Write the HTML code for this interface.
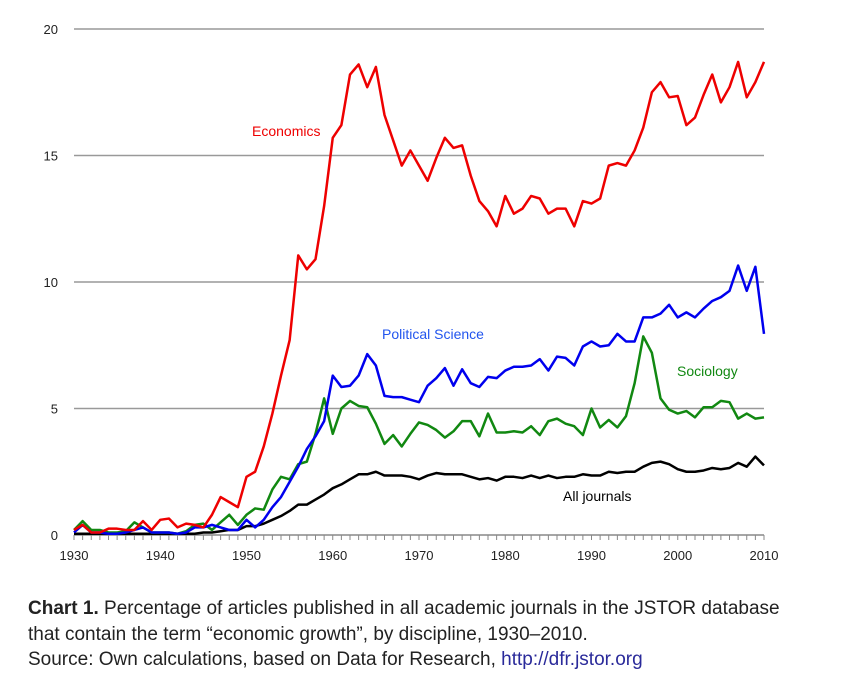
<!DOCTYPE html>
<html><head><meta charset="utf-8"><style>
body{margin:0;background:#fff;width:864px;height:694px;overflow:hidden;font-family:"Liberation Sans",sans-serif}
#cap{position:absolute;left:28px;top:596px;font-size:19px;line-height:25.5px;color:#222;white-space:nowrap}
a{color:#2a2a9a;text-decoration:none}
</style></head><body>
<svg id="chart" width="864" height="590" style="position:absolute;left:0;top:0" font-family="Liberation Sans, sans-serif"></svg>
<div id="cap"><b>Chart 1.</b> Percentage of articles published in all academic journals in the JSTOR database<br>that contain the term “economic growth”, by discipline, 1930–2010.<br>Source: Own calculations, based on Data for Research, <a>http://dfr.jstor.org</a></div>
<script>
const years=[];for(let y=1930;y<=2010;y++)years.push(y);
const yTicks=[0,5,10,15,20];
const xTicks=[1930,1940,1950,1960,1970,1980,1990,2000,2010];
const economics=[0.2,0.4,0.1,0.1,0.25,0.25,0.2,0.2,0.55,0.2,0.6,0.65,0.3,0.45,0.4,0.3,0.8,1.5,1.3,1.1,2.3,2.5,3.5,4.8,6.3,7.7,11.05,10.5,10.9,13.0,15.7,16.2,18.2,18.6,17.7,18.5,16.6,15.6,14.6,15.2,14.6,14.0,14.9,15.7,15.3,15.4,14.2,13.2,12.8,12.2,13.4,12.7,12.9,13.4,13.3,12.7,12.9,12.9,12.2,13.2,13.1,13.3,14.6,14.7,14.6,15.2,16.1,17.5,17.9,17.3,17.35,16.2,16.5,17.4,18.2,17.1,17.7,18.7,17.3,17.9,18.7];
const polisci=[0.1,0.4,0.1,0.1,0.05,0.05,0.1,0.2,0.3,0.1,0.1,0.1,0.05,0.1,0.3,0.3,0.4,0.3,0.2,0.2,0.6,0.3,0.6,1.1,1.5,2.1,2.7,3.4,3.9,4.5,6.3,5.85,5.9,6.3,7.15,6.7,5.5,5.45,5.45,5.35,5.25,5.9,6.2,6.6,5.9,6.55,6.0,5.85,6.25,6.2,6.5,6.65,6.65,6.7,6.95,6.5,7.05,7.0,6.7,7.45,7.65,7.45,7.5,7.95,7.65,7.65,8.6,8.6,8.75,9.1,8.6,8.8,8.6,8.95,9.25,9.4,9.65,10.65,9.65,10.6,7.95];
const sociology=[0.2,0.55,0.2,0.2,0.1,0.1,0.15,0.5,0.3,0.1,0.1,0.1,0.05,0.15,0.4,0.45,0.2,0.5,0.8,0.4,0.8,1.05,1.0,1.8,2.3,2.2,2.8,2.9,4.0,5.4,4.0,5.0,5.3,5.1,5.05,4.4,3.6,3.95,3.5,4.0,4.45,4.35,4.15,3.85,4.1,4.5,4.5,3.9,4.8,4.05,4.05,4.1,4.05,4.3,3.95,4.5,4.6,4.4,4.3,3.95,5.0,4.25,4.55,4.25,4.7,6.0,7.85,7.2,5.4,4.95,4.8,4.9,4.65,5.05,5.05,5.3,5.25,4.6,4.8,4.6,4.65];
const allJournals=[0.05,0.05,0.05,0.05,0.05,0.05,0.05,0.05,0.05,0.05,0.05,0.05,0.05,0.05,0.05,0.1,0.1,0.15,0.2,0.2,0.35,0.35,0.45,0.6,0.75,0.95,1.2,1.2,1.4,1.6,1.85,2.0,2.2,2.4,2.4,2.5,2.35,2.35,2.35,2.3,2.2,2.35,2.45,2.4,2.4,2.4,2.3,2.2,2.25,2.15,2.3,2.3,2.25,2.35,2.25,2.35,2.25,2.3,2.3,2.4,2.35,2.35,2.5,2.45,2.5,2.5,2.7,2.85,2.9,2.8,2.6,2.5,2.5,2.55,2.65,2.6,2.65,2.85,2.7,3.1,2.75];
const X0=74,X1=764,Y0=535,Y1=29;
const xs=y=>X0+(y-1930)*(X1-X0)/80;
const ys=v=>Y0-v*(Y0-Y1)/20;
const svg=document.getElementById('chart');
const NS='http://www.w3.org/2000/svg';
function mk(t,a){const e=document.createElementNS(NS,t);for(const k in a)e.setAttribute(k,a[k]);svg.appendChild(e);return e;}
yTicks.forEach(v=>{
 if(v>0){const g=mk('line',{x1:X0,x2:X1,y1:ys(v),y2:ys(v),stroke:'#999','stroke-width':1.5});
 
 }
 const t=mk('text',{x:58,y:ys(v)+5,'text-anchor':'end','font-size':13,fill:'#222'});t.textContent=v;
 
 
});
const ax=mk('line',{x1:X0,x2:X1,y1:Y0,y2:Y0,stroke:'#888','stroke-width':1.5});


years.forEach(y=>{mk('line',{x1:xs(y),x2:xs(y),y1:Y0,y2:Y0+5,stroke:'#888','stroke-width':1});});
xTicks.forEach(y=>{const t=mk('text',{x:xs(y),y:Y0+25,'text-anchor':'middle','font-size':13,fill:'#222'});t.textContent=y;
 
 });
function series(d,c,n){const p=mk('polyline',{points:d.map((v,i)=>xs(years[i])+','+ys(v)).join(' '),fill:'none',stroke:c,'stroke-width':2.5,'stroke-linejoin':'round'});
 
 }
series(allJournals,'#000','all-journals-line');
series(sociology,'#118811','sociology-line');
series(polisci,'#0000ee','political-science-line');
series(economics,'#ee0000','economics-line');
function lab(s,x,y,c,n){const t=mk('text',{x:x,y:y,'font-size':14,fill:c});t.textContent=s;
 
 }
lab('Economics',252,136,'#ee0000','economics-label');
lab('Political Science',382,339,'#2255ee','political-science-label');
lab('Sociology',677,376,'#118811','sociology-label');
lab('All journals',563,501,'#000','all-journals-label');
</script>
</body></html>
